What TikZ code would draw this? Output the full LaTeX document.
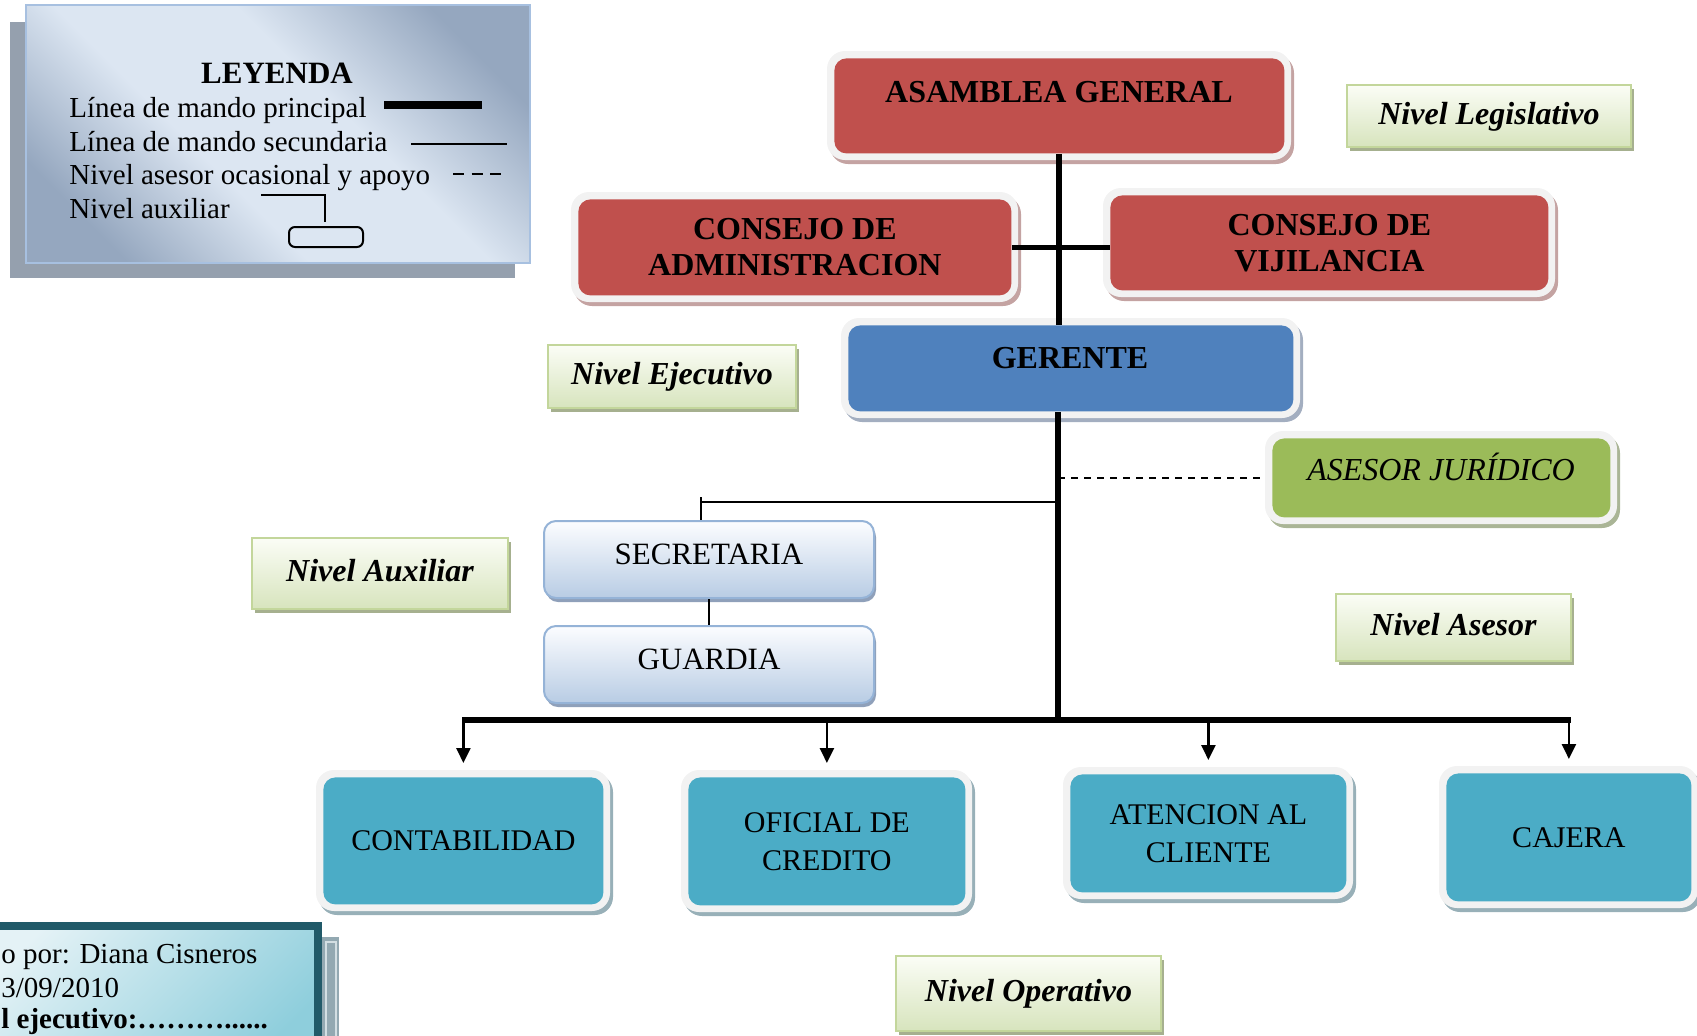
\documentclass[tikz,border=0pt]{standalone}
\usepackage{fontspec}
\setmainfont{Liberation Serif}
\usetikzlibrary{arrows.meta}
\definecolor{framecol}{HTML}{F2F2F2}
\definecolor{redbox}{HTML}{C0504D}
\definecolor{redboxsh}{HTML}{C4A3A2}
\definecolor{bluebox}{HTML}{4F81BD}
\definecolor{blueboxsh}{HTML}{A3AEC0}
\definecolor{greenbox}{HTML}{9BBB59}
\definecolor{greenboxsh}{HTML}{AAB596}
\definecolor{tealbox}{HTML}{4BACC6}
\definecolor{tealboxsh}{HTML}{98B0B8}
\definecolor{lvlborder}{HTML}{C3D69B}
\definecolor{lvltop}{HTML}{FBFDF6}
\definecolor{lvlbot}{HTML}{D7E4BD}
\definecolor{lvlsh}{HTML}{A6B08F}
\definecolor{auxborder}{HTML}{95B3D7}
\definecolor{auxtop}{HTML}{FCFDFF}
\definecolor{auxbot}{HTML}{B8CCE4}
\definecolor{auxsh}{HTML}{8FA0BA}
\definecolor{legD}{HTML}{95A7BF}
\definecolor{legL}{HTML}{DCE6F2}
\definecolor{legborder}{HTML}{A7C0E0}
\definecolor{legsh}{HTML}{95A0AE}
\definecolor{footL}{HTML}{E4F2F6}
\definecolor{footD}{HTML}{8ECEDC}
\definecolor{footborder}{HTML}{215A69}
\definecolor{footsh}{HTML}{93A9B2}
\definecolor{footshl}{HTML}{D3DFE3}
\pgfdeclarehorizontalshading{legshade}{100bp}{color(0bp)=(legD); color(24bp)=(legD); color(41bp)=(legL); color(58bp)=(legL); color(76bp)=(legD); color(100bp)=(legD)}
\newcommand\orgbox[8]{%
  \fill[#6sh, rounded corners=9pt] ({#2-4},{#3-3}) rectangle ({#4+10},{#5+11});
  \fill[framecol, rounded corners=9pt] ({#2-7},{#3-7}) rectangle ({#4+7},{#5+7});
  \node[fill=#6, rounded corners=6pt, inner sep=0pt, minimum width={(#4-#2)*0.5pt}, minimum height={(#5-#3)*0.5pt}, anchor=north west, #7] (#1) at (#2,#3) {#8};
}
\newcommand\auxbox[6]{%
  \fill[auxsh, rounded corners=6pt] ({#2+3},{#3+5}) rectangle ({#4+3},{#5+5});
  \node[auxnode, minimum width={(#4-#2)*0.5pt}, minimum height={(#5-#3)*0.5pt}, anchor=north west] (#1) at (#2,#3) {#6};
}
\newcommand\lvl[6]{%
  \fill[lvlsh] ({#2+4},{#3+5}) rectangle ({#4+4},{#5+5});
  \node[lvlbox, minimum width={(#4-#2)*0.5pt}, minimum height={(#5-#3)*0.5pt}, anchor=north west] (#1) at (#2,#3) {#6};
}
\begin{document}
\begin{tikzpicture}[x=0.5pt,y=-0.5pt,
  mainline/.style={line width=3pt, black},
  thinline/.style={line width=1pt, black},
  dashline/.style={line width=1pt, black, dash pattern=on 3.5pt off 3pt},
  arr/.style={line width=1.2pt, black, -{Triangle[length=7.5pt,width=7pt]}},
  txt/.style={inner sep=0pt, font=\fontsize{14.5}{16.8}\selectfont},
  ttl/.style={inner sep=0pt, align=center, font=\fontsize{16}{18}\selectfont\bfseries},
  bot/.style={inner sep=0pt, align=center, font=\fontsize{15}{19}\selectfont},
  lvlbox/.style={draw=lvlborder, line width=1pt, top color=lvltop, bottom color=lvlbot, inner sep=0pt, text height=12pt, text depth=4pt, font=\fontsize{16}{18}\selectfont\bfseries\itshape},
  auxnode/.style={draw=auxborder, line width=1pt, rounded corners=6pt, top color=auxtop, bottom color=auxbot, inner sep=0pt, text depth=5pt, font=\fontsize{15.5}{18}\selectfont},
]
\useasboundingbox (0,0) rectangle (1697,1035);

% ---------- legend ----------
\fill[legsh] (10,22) rectangle (515,278);
\shade[shading=legshade, shading angle=45] (26,5) rectangle (530,263);
\draw[legborder, line width=1pt] (26,5) rectangle (530,263);
\node[inner sep=0pt, font=\fontsize{15.5}{18}\selectfont\bfseries, anchor=base] (leyenda) at (277,83) {LEYENDA};
\node[txt, anchor=base west] (leg1) at (69,117) {Línea de mando principal};
\node[txt, anchor=base west] (leg2) at (69,151) {Línea de mando secundaria};
\node[txt, anchor=base west] (leg3) at (69,184) {Nivel asesor ocasional y apoyo};
\node[txt, anchor=base west] (leg4) at (69,218) {Nivel auxiliar};
\draw[line width=4pt] (384,105) -- (482,105);
\draw[line width=1pt] (411,144) -- (507,144);
\draw[line width=1pt, dash pattern=on 5.5pt off 3.75pt] (453,174) -- (501,174);
\draw[line width=1pt] (261,195) -- (325,195) -- (325,222);
\draw[line width=1pt, rounded corners=3pt] (289,227) rectangle (363,247);

% ---------- footer ----------
\fill[footsh] (318,937) rectangle (339,1045);
\draw[footshl, line width=0.75pt] (326,1045) -- (326,942) -- (336,942) -- (336,1045);
\shade[left color=footL, right color=footD, shading angle=45] (-30,926) rectangle (318,1070);
\draw[footborder, line width=4pt] (-30,926) rectangle (318,1070);
\node[txt, anchor=base west] (foot1) at (1,963) {o por: Diana Cisneros};
\node[txt, anchor=base west] (foot2) at (1,997) {3/09/2010};
\node[txt, anchor=base west, font=\fontsize{14.5}{16.8}\selectfont\bfseries] (foot3) at (1,1028) {l ejecutivo:………......};

% ---------- level labels ----------
\lvl{lleg}{1346}{84}{1630}{146}{Nivel Legislativo}
\lvl{lejec}{547}{344}{795}{407}{Nivel Ejecutivo}
\lvl{laux}{251}{537}{507}{608}{Nivel Auxiliar}
\lvl{lases}{1335}{593}{1570}{660}{Nivel Asesor}
\lvl{loper}{895}{955}{1160}{1030}{Nivel Operativo}

% ---------- boxes ----------
\orgbox{asamblea}{834}{58}{1284}{153}{redbox}{}{}
\node[ttl, anchor=base] (tasam) at (1059,102) {ASAMBLEA GENERAL};
\orgbox{admin}{578}{199}{1011}{295}{redbox}{ttl}{CONSEJO DE\\ADMINISTRACION}
\orgbox{vij}{1110}{195}{1548}{290}{redbox}{ttl}{CONSEJO DE\\VIJILANCIA}
\orgbox{gerente}{848}{325}{1293}{411}{bluebox}{}{}
\node[ttl, anchor=base] (tger) at (1070,368) {GERENTE};
\orgbox{asesor}{1272}{438}{1610}{517}{greenbox}{}{}
\node[inner sep=0pt, font=\fontsize{16}{18}\selectfont\itshape, anchor=base] (tases) at (1441,480) {ASESOR JURÍDICO};
\auxbox{secretaria}{543}{520}{873}{597}{SECRETARIA}
\auxbox{guardia}{543}{625}{873}{702}{GUARDIA}
\orgbox{contab}{323}{777}{603}{904}{tealbox}{bot}{CONTABILIDAD}
\orgbox{oficial}{688}{777}{965}{905}{tealbox}{bot}{OFICIAL DE\\CREDITO}
\orgbox{atencion}{1070}{774}{1346}{892}{tealbox}{bot}{ATENCION AL\\CLIENTE}
\orgbox{cajera}{1446}{773}{1691}{901}{tealbox}{bot}{CAJERA}

% ---------- connectors ----------
\coordinate (busc) at (1058,720);
\coordinate (busl) at (462,720);
\coordinate (busr) at (1571,720);
\coordinate (sbh) at (701,502);
\coordinate (sbt) at (701,497);
\draw[mainline] (asamblea.south) -- (asamblea.south |- gerente.north);
\draw[mainline, line width=2.5pt] (admin.east) -- (admin.east -| vij.west);
\draw[mainline] (gerente.south -| busc) -- (busc);
\draw[dashline, shorten >=4pt] (asesor.west -| busc) -- (asesor.west);
\draw[thinline] (sbh -| busc) -- (sbh);
\draw[thinline] (sbt) -- (sbt |- secretaria.north);
\draw[line width=0.75pt] (secretaria.south) -- (guardia.north);
\draw[mainline] (busl) -- (busr);
\foreach \n in {contab,oficial,atencion,cajera}
  \draw[arr, shorten >=7pt] (\n.north |- busc) -- (\n.north);
\end{tikzpicture}
\end{document}
